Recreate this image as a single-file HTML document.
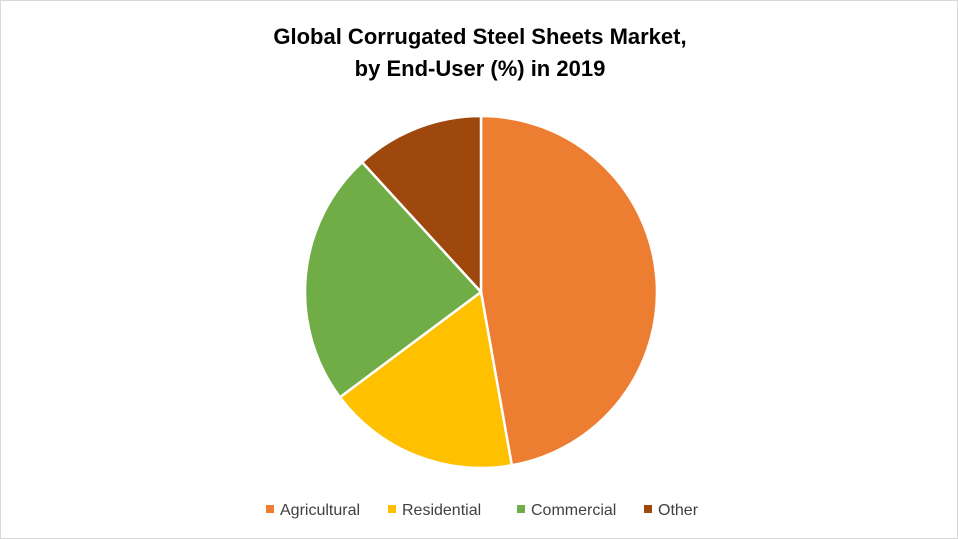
<!DOCTYPE html>
<html><head><meta charset="utf-8"><style>
body{margin:0;background:#fff;}
#chart{position:relative;width:956px;height:537px;border:1px solid #d9d9d9;background:#fff;font-family:"Liberation Sans",sans-serif;}
#title{position:absolute;left:0;top:20px;width:958px;text-align:center;font-weight:bold;font-size:22px;line-height:32px;color:#000;}
</style></head><body>
<div id="chart">
<div id="title">Global Corrugated Steel Sheets Market,<br>by End-User (%) in 2019</div>
<svg id="svg" width="958" height="539" style="position:absolute;left:0;top:0"></svg>
</div>
<script>
const categories=["Agricultural","Residential","Commercial","Other"];
const values=[47.2,17.6,23.4,11.8];
const colors=["#ed7d31","#ffc000","#70ad47","#9e480e"];
const svg=document.getElementById('svg');
const NS="http://www.w3.org/2000/svg";
const cx=480,cy=291,r=176;
const total=values.reduce((a,b)=>a+b,0);
let a0=0;
function pt(a){return [cx+r*Math.sin(a),cy-r*Math.cos(a)];}
values.forEach((v,i)=>{
  const a1=a0+v/total*2*Math.PI;
  const p0=pt(a0),p1=pt(a1);
  const large=(a1-a0)>Math.PI?1:0;
  const path=document.createElementNS(NS,'path');
  path.setAttribute('d',`M${cx},${cy} L${p0[0]},${p0[1]} A${r},${r} 0 ${large} 1 ${p1[0]},${p1[1]} Z`);
  path.setAttribute('fill',colors[i]);
  path.setAttribute('stroke','#fff');
  path.setAttribute('stroke-width','2.5');
  
  
  svg.appendChild(path);
  a0=a1;
});
const lx=[265,387,516,643];
categories.forEach((c,i)=>{
  const g=document.createElementNS(NS,'g');
  
  
  const rc=document.createElementNS(NS,'rect');
  rc.setAttribute('x',lx[i]);rc.setAttribute('y',504);rc.setAttribute('width',8);rc.setAttribute('height',8);
  rc.setAttribute('fill',colors[i]);
  g.appendChild(rc);
  const t=document.createElementNS(NS,'text');
  t.setAttribute('x',lx[i]+14);t.setAttribute('y',514);
  t.setAttribute('font-size','16');t.setAttribute('fill','#404040');
  t.setAttribute('font-family','Liberation Sans, sans-serif');
  t.textContent=c;
  g.appendChild(t);
  svg.appendChild(g);
});
</script>
</body></html>
